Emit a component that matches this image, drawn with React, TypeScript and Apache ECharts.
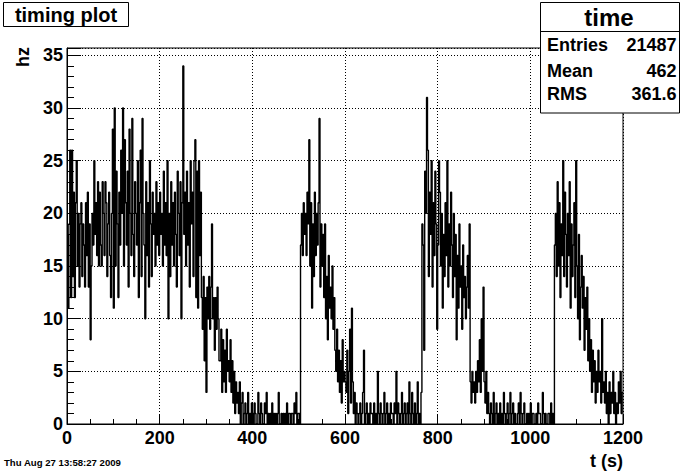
import React, { useEffect, useRef } from "react";
import * as echarts from "echarts";

// histogram: 2-second bins from 0 to 1200 s, rate in hz
const binWidth = 2;
const rates0to100 = [
  18, 11, 19, 26, 12, 26, 14, 22, 12, 21,
  25, 15, 20, 13, 19, 21, 14, 19, 17, 13,
  21, 16, 22, 13, 19, 8, 15, 20, 17, 25,
  18, 21, 16, 23, 15, 22, 17, 15, 23, 20,
  16, 23, 21, 14, 19, 22, 16, 12, 20, 28,
];
const rates100to200 = [
  11, 30, 15, 24, 19, 12, 22, 17, 26, 20,
  30, 15, 27, 21, 17, 24, 13, 28, 20, 16,
  29, 18, 14, 23, 20, 17, 25, 12, 21, 26,
  14, 29, 20, 17, 10, 23, 16, 21, 13, 25,
  19, 14, 22, 18, 20, 15, 23, 17, 21, 16,
];
const rates200to300 = [
  22, 18, 20, 15, 24, 17, 21, 16, 25, 10,
  20, 14, 23, 17, 21, 15, 22, 18, 13, 24,
  20, 16, 23, 10, 21, 34, 18, 22, 15, 24,
  17, 21, 13, 25, 19, 22, 14, 25, 27, 12,
  24, 11, 25, 16, 22, 12, 9, 14, 6, 12,
];
const rates300to400 = [
  3, 13, 10, 14, 9, 13, 19, 10, 12, 7,
  12, 9, 13, 10, 6, 6, 9, 3, 8, 4,
  7, 3, 9, 5, 6, 4, 8, 3, 6, 2,
  5, 1, 4, 2, 3, 1, 4, 0, 2, 3,
  0, 1, 2, 0, 1, 3, 0, 1, 0, 2,
];
const rates400to500 = [
  1, 0, 2, 1, 0, 0, 3, 1, 0, 2,
  1, 0, 0, 2, 1, 3, 0, 1, 0, 1,
  0, 2, 0, 1, 0, 1, 0, 1, 3, 0,
  0, 1, 0, 1, 0, 1, 0, 2, 0, 1,
  1, 0, 1, 1, 0, 2, 1, 3, 0, 1,
];
const rates500to600 = [
  1, 0, 17, 20, 16, 21, 18, 20, 16, 22,
  19, 27, 15, 21, 11, 19, 14, 22, 16, 20,
  17, 21, 29, 13, 19, 15, 18, 12, 19, 10,
  14, 8, 16, 11, 13, 10, 15, 9, 12, 7,
  5, 9, 4, 7, 3, 6, 2, 8, 4, 5,
];
const rates600to700 = [
  4, 3, 7, 1, 5, 9, 2, 11, 4, 1,
  3, 0, 2, 1, 0, 1, 2, 0, 1, 3,
  7, 0, 1, 2, 0, 1, 0, 2, 1, 1,
  0, 2, 0, 1, 0, 5, 1, 0, 2, 1,
  0, 1, 3, 0, 1, 2, 0, 1, 0, 2,
];
const rates700to800 = [
  1, 1, 0, 2, 1, 5, 0, 2, 1, 0,
  1, 3, 0, 1, 2, 0, 1, 2, 0, 4,
  1, 0, 3, 1, 0, 2, 0, 1, 4, 0,
  1, 0, 3, 19, 17, 7, 24, 20, 31, 26,
  14, 22, 18, 25, 13, 21, 16, 24, 19, 9,
];
const rates800to900 = [
  17, 25, 22, 15, 20, 11, 18, 14, 21, 16,
  25, 13, 19, 15, 22, 17, 12, 20, 14, 18,
  8, 16, 11, 19, 13, 15, 9, 17, 12, 14,
  10, 13, 16, 11, 19, 4, 2, 5, 3, 4,
  2, 5, 3, 6, 4, 8, 3, 10, 5, 13,
];
const rates900to1000 = [
  4, 2, 5, 1, 3, 1, 0, 2, 1, 0,
  3, 0, 1, 2, 0, 1, 0, 2, 0, 1,
  0, 3, 1, 0, 1, 2, 0, 1, 3, 0,
  1, 2, 0, 1, 0, 0, 1, 2, 0, 3,
  1, 0, 1, 2, 0, 0, 1, 0, 1, 0,
];
const rates1000to1100 = [
  2, 0, 1, 1, 0, 0, 1, 0, 2, 1,
  1, 0, 0, 3, 1, 0, 1, 0, 0, 1,
  1, 0, 2, 0, 1, 0, 17, 20, 14, 23,
  15, 21, 12, 19, 16, 25, 14, 22, 18, 13,
  20, 16, 23, 11, 19, 14, 17, 21, 12, 25,
];
const rates1100to1200 = [
  15, 10, 18, 8, 13, 16, 11, 14, 7, 12,
  9, 13, 6, 10, 5, 8, 3, 7, 4, 6,
  2, 5, 3, 7, 4, 5, 2, 10, 3, 4,
  2, 5, 1, 3, 0, 4, 1, 3, 2, 5,
  1, 3, 0, 2, 1, 4, 2, 5, 1, 3,
];

const statsLabels = ["Entries", "Mean", "RMS"];
const statsValues = ["21487", "462", "361.6"];

const xMin = 0;
const xMax = 1200;
const xInterval = 200;
const yMin = 0;
const yMax = 35.7;
const yInterval = 5;

const HELV = '"Liberation Sans", Arial, Helvetica, sans-serif';

export default function App() {
  const ref = useRef<HTMLDivElement>(null);

  useEffect(() => {
    if (!ref.current) return;
    const chart = echarts.init(ref.current, undefined, { renderer: "svg" });

    const rates = [
      ...rates0to100, ...rates100to200, ...rates200to300, ...rates300to400,
      ...rates400to500, ...rates500to600, ...rates600to700, ...rates700to800,
      ...rates800to900, ...rates900to1000, ...rates1000to1100, ...rates1100to1200,
    ];
    const data: [number, number][] = rates.map((v, i) => [xMin + i * binWidth, v]);
    data.push([xMin + rates.length * binWidth, rates[rates.length - 1]]);

    const gridBox = { left: 67, right: 59, top: 48, bottom: 47 };
    const black = "#000";
    const labelFont = { color: black, fontFamily: HELV, fontWeight: "bold" as const, fontSize: 18 };

    const statsRows: any[] = [];
    const rowY = [45, 71, 94];
    statsLabels.forEach((lab, i) => {
      statsRows.push({
        type: "text", z: 101, x: 547, y: rowY[i],
        style: { text: lab, fontFamily: HELV, fontWeight: "bold", fontSize: 18, fill: black, textAlign: "left", textVerticalAlign: "middle" },
      });
      statsRows.push({
        type: "text", z: 101, x: 676.5, y: rowY[i],
        style: { text: statsValues[i], fontFamily: HELV, fontWeight: "bold", fontSize: 18, fill: black, textAlign: "right", textVerticalAlign: "middle" },
      });
    });

    chart.setOption({
      animation: false,
      backgroundColor: "#fff",
      grid: [
        { ...gridBox, show: true, borderColor: black, borderWidth: 1, backgroundColor: "transparent", containLabel: false, outerBoundsMode: "none" },
        { ...gridBox, show: false, containLabel: false, outerBoundsMode: "none" },
      ],
      xAxis: [
        {
          type: "value", gridIndex: 0, min: xMin, max: xMax, interval: xInterval,
          axisLine: { show: true, lineStyle: { color: black, width: 1 } },
          axisTick: { show: true, inside: true, length: 9, lineStyle: { color: black, width: 1 } },
          minorTick: { show: true, splitNumber: 4, length: 5, lineStyle: { color: black, width: 1 } },
          axisLabel: { ...labelFont, margin: 5, formatter: (v: number) => String(v) },
          splitLine: { show: true, lineStyle: { color: black, width: 1, type: [1, 2] } },
        },
        { type: "value", gridIndex: 1, min: xMin, max: xMax, show: false },
      ],
      yAxis: [
        {
          type: "value", gridIndex: 0, min: yMin, max: yMax, interval: yInterval,
          axisLine: { show: true, lineStyle: { color: black, width: 1 } },
          axisTick: { show: true, inside: true, length: 14, lineStyle: { color: black, width: 1 } },
          axisLabel: {
            ...labelFont, margin: 4,
            formatter: (v: number) => (Math.abs(v % yInterval) < 1e-9 ? String(v) : ""),
          },
          splitLine: { show: true, lineStyle: { color: black, width: 1, type: [1, 2] } },
        },
        {
          type: "value", gridIndex: 1, min: yMin, max: yMax, interval: 1,
          axisLine: { show: false },
          axisTick: { show: true, inside: true, length: 7, lineStyle: { color: black, width: 1 } },
          axisLabel: { show: false },
          splitLine: { show: false },
        },
      ],
      series: [
        {
          type: "line", xAxisIndex: 0, yAxisIndex: 0, step: "end", data,
          showSymbol: false, symbol: "none", silent: true,
          lineStyle: { color: black, width: 1.4 },
        },
        { type: "line", xAxisIndex: 1, yAxisIndex: 1, data: [], showSymbol: false, silent: true },
      ],
      graphic: [
        {
          type: "rect", z: 100, shape: { x: 3.5, y: 2.5, width: 125, height: 24 },
          style: { fill: "#fff", stroke: black, lineWidth: 1 },
        },
        {
          type: "text", z: 101, x: 66, y: 15,
          style: { text: "timing plot", fontFamily: HELV, fontWeight: "bold", fontSize: 20, fill: black, textAlign: "center", textVerticalAlign: "middle" },
        },
        {
          type: "rect", z: 100, shape: { x: 540.5, y: 2.5, width: 139, height: 110.5 },
          style: { fill: "#fff", stroke: black, lineWidth: 1 },
        },
        {
          type: "line", z: 101, shape: { x1: 540.5, y1: 31.5, x2: 679.5, y2: 31.5 },
          style: { stroke: black, lineWidth: 1 },
        },
        {
          type: "text", z: 101, x: 609, y: 17,
          style: { text: "time", fontFamily: HELV, fontWeight: "bold", fontSize: 24, fill: black, textAlign: "center", textVerticalAlign: "middle" },
        },
        ...statsRows,
        {
          type: "text", z: 101, x: 623, y: 461,
          style: { text: "t (s)", fontFamily: HELV, fontWeight: "bold", fontSize: 18, fill: black, textAlign: "right", textVerticalAlign: "middle" },
        },
        {
          type: "text", z: 101, x: 22.5, y: 57, rotation: Math.PI / 2,
          style: { text: "hz", fontFamily: HELV, fontWeight: "bold", fontSize: 18, fill: black, textAlign: "center", textVerticalAlign: "middle" },
        },
        {
          type: "text", z: 101, x: 4, y: 462,
          style: { text: "Thu Aug 27 13:58:27 2009", fontFamily: '"Liberation Sans Narrow", "Liberation Sans", sans-serif', fontWeight: "bold", fontSize: 9.6, fill: black, textAlign: "left", textVerticalAlign: "middle" },
        },
      ],
    });

    return () => chart.dispose();
  }, []);

  return (
    <div
      ref={ref}
      style={{ position: "absolute", left: 0, top: 0, width: 682, height: 471, background: "#fff" }}
    />
  );
}
